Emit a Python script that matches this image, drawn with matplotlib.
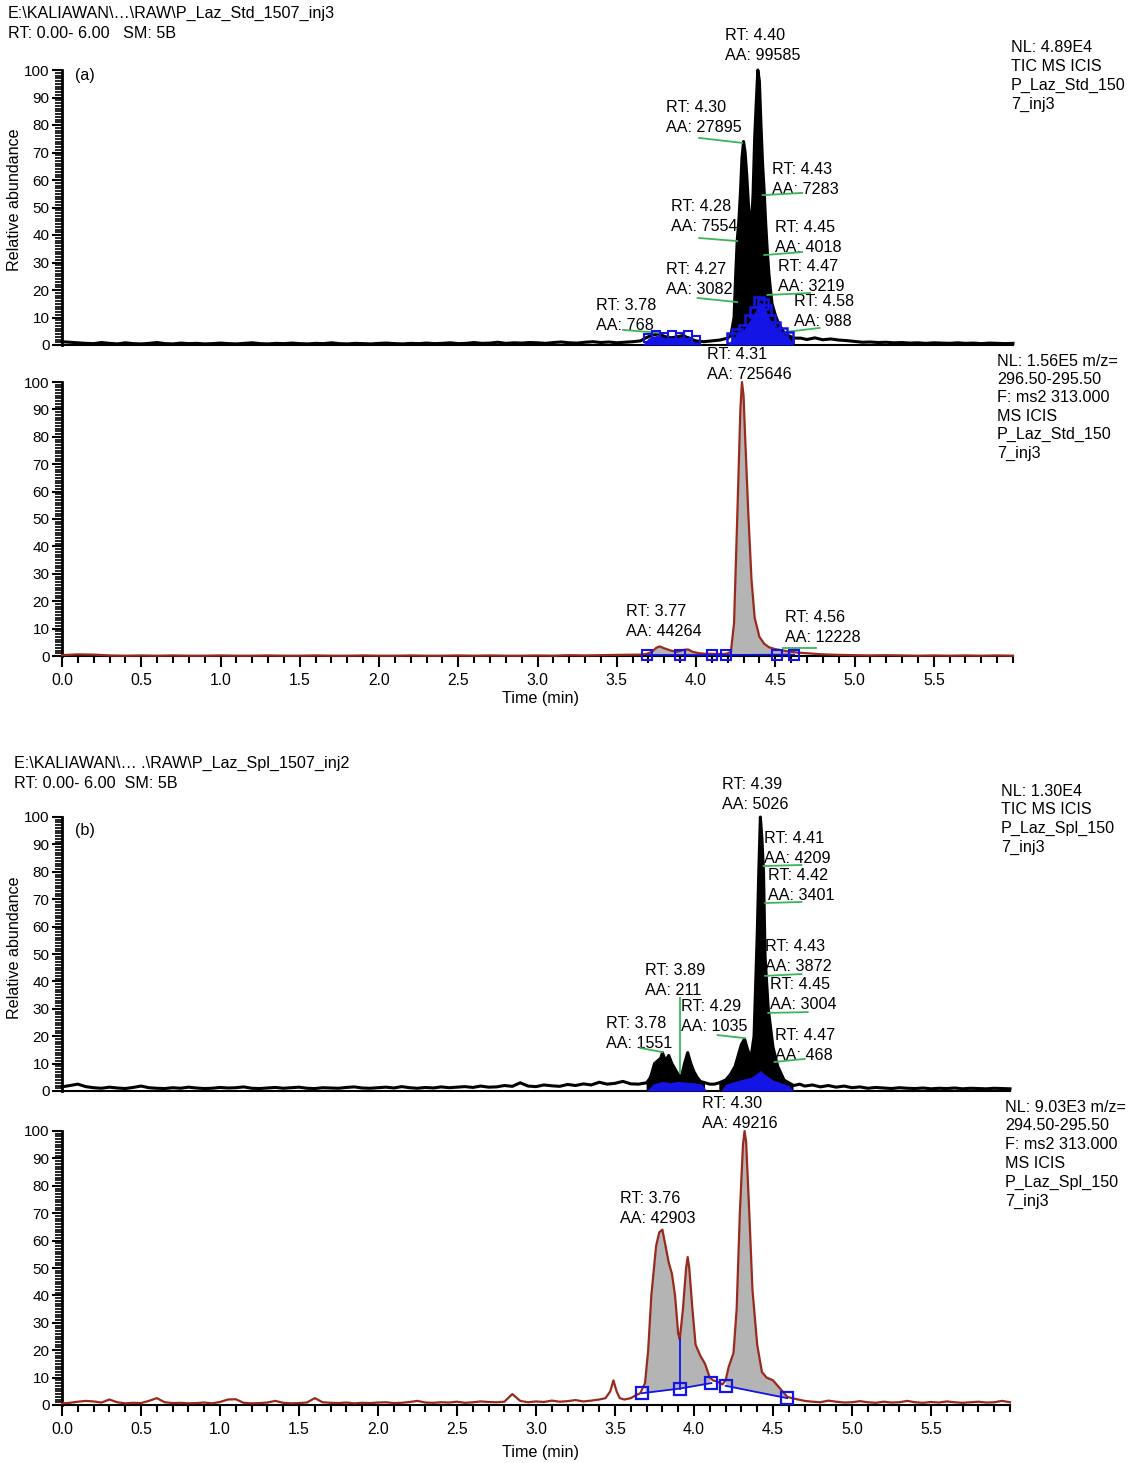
import numpy as np
import matplotlib
matplotlib.use("Agg")
import matplotlib.pyplot as plt
from matplotlib.ticker import MultipleLocator, FixedLocator

plt.rcParams['font.family'] = ['Liberation Sans', 'DejaVu Sans']

W, H = 1128, 1463

# ---------------- DATA ----------------
# Panel (a) TIC  (standard)
tic_a_base_t = np.round(np.arange(0, 3.5, 0.05), 2)
tic_a_base_y = [1.2,1.0,0.8,0.6,0.5,0.9,0.6,0.4,0.8,0.5, 0.4,0.6,0.9,0.5,0.4,0.7,0.5,0.6,0.4,0.5,
                0.7,0.5,0.4,0.6,0.8,0.5,0.4,0.6,0.5,0.7, 0.5,0.4,0.6,0.5,0.8,0.5,0.4,0.6,0.5,0.4,
                0.6,0.7,0.5,0.4,0.6,0.5,0.7,0.5,0.6,0.8, 0.5,0.6,0.9,0.6,0.7,1.0,0.6,0.8,0.7,0.9,
                0.8,0.6,0.9,1.1,0.8,0.7,1.0,1.2,0.9,1.1]
tic_a_peak_t = [3.50,3.55,3.60,3.65,3.68,3.72,3.76,3.80,3.84,3.88,3.92,3.96,4.00,4.05,4.10,4.15,4.20,4.22,
                4.24,4.25,4.26,4.27,4.28,4.29,4.30,4.31,4.32,4.33,4.34,4.35,4.36,4.37,4.38,4.39,4.40,
                4.41,4.42,4.43,4.44,4.45,4.46,4.47,4.48,4.50,4.52,4.55,4.58,4.62,4.66,4.70,4.75,4.80,
                4.85,4.90,4.95,5.00,5.05,5.10,5.15,5.20,5.25,5.30,5.35,5.40,5.45,5.50,5.55,5.60,5.65,
                5.70,5.75,5.80,5.85,5.90,5.95,6.00]
tic_a_peak_y = [0.8,1.0,1.2,1.5,2.5,3.5,4.0,3.2,2.5,3.0,3.5,2.2,1.5,1.2,1.5,1.8,2.5,3.5,
                10,25,38,45,55,68,74,70,62,52,45,43,55,75,88,100,96,
                80,66,56,44,34,26,20,15,11,8,5,3.5,2.5,2.5,2.0,2.6,1.9,
                2.2,1.8,1.6,1.3,1.0,1.1,0.9,1.0,0.8,0.9,0.7,0.8,0.6,0.8,0.7,0.6,0.8,
                0.6,0.7,0.5,0.7,0.6,0.5,0.6]
tic_a_blue1_t = [3.66,3.70,3.75,3.80,3.85,3.90,3.95,4.00,4.04]
tic_a_blue1_y = [0,2.5,3.5,3.0,3.5,3.0,3.5,2.0,0]
tic_a_blue2_t = [4.20,4.23,4.26,4.30,4.34,4.37,4.40,4.42,4.44,4.47,4.50,4.54,4.58,4.62]
tic_a_blue2_y = [0,2.5,4,5.5,9,12,15.6,15,12.7,9,6.5,4.5,3,0]

# Panel (a) SRM
srm_a_base_t = np.round(np.arange(0, 3.6, 0.1), 2)
srm_a_base_y = [0.3,0.6,0.5,0.2,0.1,0.2,0.1,0.2,0.1,0.1, 0.2,0.1,0.1,0.2,0.1,0.1,0.2,0.1,0.1,0.2,
                0.1,0.1,0.2,0.1,0.1,0.2,0.1,0.2,0.1,0.1, 0.2,0.1,0.3,0.2,0.3,0.4]
srm_a_peak_t = [3.65,3.69,3.72,3.75,3.77,3.80,3.84,3.88,3.92,3.95,3.98,4.02,4.06,4.10,4.15,4.19,
                4.22,4.24,4.26,4.28,4.29,4.30,4.31,4.33,4.35,4.37,4.40,4.43,4.46,4.50,4.55,4.60,
                4.65,4.70,4.75,4.80,4.90,5.00,5.10,5.20,5.30,5.40,5.50,5.60,5.70,5.80,5.90,6.00]
srm_a_peak_y = [0.5,0.8,1.5,3.0,3.5,2.8,2.0,1.5,2.2,2.4,1.5,1.0,0.8,0.8,0.7,0.8,
                1.5,12,50,90,100,95,80,52,28,14,7,4.5,3.2,2.5,2.0,1.5,
                1.2,1.0,0.8,0.6,0.4,0.3,0.2,0.3,0.2,0.1,0.2,0.1,0.2,0.1,0.2,0.1]
srm_a_sq_t = [3.69,3.90,4.10,4.19,4.51,4.62]
srm_a_sq_y = [0.4,0.4,0.4,0.4,0.5,0.5]

# Panel (b) TIC (sample)
tic_b_base_t = np.round(np.arange(0, 3.65, 0.05), 2)
tic_b_base_y = [1.5,2.0,2.5,1.6,1.2,1.0,1.4,1.1,0.9,1.3, 1.8,1.2,1.0,0.9,1.2,1.0,1.4,1.1,0.9,1.0,
                1.3,1.1,1.2,1.5,1.0,0.9,1.1,1.3,1.0,1.2, 1.4,1.0,0.9,1.2,1.1,1.0,1.3,1.5,1.1,1.0,
                1.2,1.4,1.1,1.6,1.2,1.0,1.3,1.1,1.5,1.2, 1.4,1.6,1.3,1.8,1.4,1.5,2.0,1.7,3.0,1.8,
                1.6,2.2,1.9,1.7,2.4,2.0,2.6,2.2,3.2,2.5, 2.8,3.5,2.6]
tic_b_peak_t = [3.65,3.70,3.72,3.73,3.75,3.77,3.79,3.80,3.82,3.84,3.86,3.88,3.90,3.92,3.94,3.96,3.98,
                4.00,4.02,4.04,4.07,4.10,4.13,4.16,4.20,4.23,4.26,4.28,4.30,4.32,4.34,4.36,4.38,
                4.40,4.41,4.42,4.43,4.44,4.45,4.47,4.50,4.53,4.57,4.60,4.63,4.67,4.70,4.75,4.80,
                4.85,4.90,4.95,5.00,5.05,5.10,5.15,5.20,5.25,5.30,5.35,5.40,5.45,5.50,5.55,5.60,
                5.65,5.70,5.75,5.80,5.85,5.90,5.95,6.00]
tic_b_peak_y = [2.5,3.0,4.5,6,10,11,12,14,11,13,10,8,6,5,10,14,10,
                7,5,3.5,3,2.5,2.5,3,4,6,9,13,17,19,15,12,20,
                57,80,100,92,80,49,30,16,9,4,3,2,2.5,1.8,2.2,1.5,
                2.0,1.4,1.8,1.2,1.5,1.0,1.3,1.1,0.9,1.2,1.0,0.9,1.1,0.8,1.0,0.9,
                1.1,0.8,1.0,0.9,0.8,1.0,0.9,0.8]
tic_b_blue1_t = [3.70,3.74,3.80,3.85,3.90,3.95,4.00,4.05,4.08]
tic_b_blue1_y = [0,2.5,3.5,3.0,3.5,3.2,3.0,2.5,0]
tic_b_blue2_t = [4.17,4.20,4.26,4.32,4.36,4.40,4.42,4.45,4.50,4.55,4.60,4.63]
tic_b_blue2_y = [0,2.5,3.5,4.5,5,6.5,7.5,6,4,3,2,0]

# Panel (b) SRM
srm_b_base_t = np.round(np.arange(0, 3.45, 0.05), 2)
srm_b_base_y = [0.6,0.8,1.2,1.5,1.3,0.9,2.0,1.0,0.6,0.8, 0.7,1.5,2.5,1.0,0.7,0.8,0.6,0.7,0.9,0.6,
                1.1,2.0,2.1,0.8,0.6,0.7,0.9,1.5,0.8,0.6, 0.7,0.9,2.5,1.0,0.8,0.7,0.9,0.6,0.8,0.7,
                0.9,1.0,0.7,0.8,1.1,1.5,0.9,0.8,1.0,0.9, 1.2,0.8,1.0,1.3,1.1,1.0,1.2,4.0,1.5,1.0,
                1.3,1.1,1.6,1.2,1.4,1.8,1.3,1.6,2.0]
srm_b_peak_t = [3.44,3.47,3.49,3.51,3.53,3.56,3.60,3.63,3.66,3.69,3.71,3.73,3.76,3.78,3.80,3.82,
                3.84,3.86,3.88,3.90,3.91,3.93,3.95,3.96,3.97,3.99,4.01,4.04,4.07,4.10,4.12,4.15,
                4.18,4.20,4.22,4.25,4.27,4.29,4.31,4.32,4.33,4.35,4.37,4.40,4.43,4.46,4.50,4.53,
                4.56,4.59,4.62,4.66,4.70,4.75,4.80,4.85,4.90,4.95,5.00,5.05,5.10,5.15,5.20,5.25,
                5.30,5.35,5.40,5.45,5.50,5.55,5.60,5.65,5.70,5.75,5.80,5.85,5.90,5.95,6.00]
srm_b_peak_y = [2.5,5,9,5,2.5,2.0,2.5,3.5,4.3,8,20,40,58,63,64,58,
                52,48,40,26,24,35,50,54,50,35,22,18,15,10,9,8.5,
                7.5,9,14,19,35,70,95,100,96,70,42,22,12,10,9,7,
                5,3,2.5,2.0,1.5,1.2,1.0,1.6,1.2,0.9,1.0,1.4,1.0,0.8,1.2,0.9,
                1.0,1.5,1.0,0.8,1.1,0.9,1.3,1.0,0.8,1.0,1.2,0.9,1.0,1.5,1.0]
srm_b_bl1_t = [3.67,3.91,4.11]
srm_b_bl1_y = [4.3,6.0,8.0]
srm_b_bl2_t = [4.20,4.59]
srm_b_bl2_y = [7.0,2.5]
srm_b_drop_t = 3.91
srm_b_drop_y = [6.0,24.0]

# Peak annotations: (RT text, AA text, x, y of first line)
ann_a_tic = [("RT: 4.40","AA: 99585",4.18,112.7), ("RT: 4.30","AA: 27895",3.81,86.5),
             ("RT: 4.43","AA: 7283",4.48,64.0), ("RT: 4.28","AA: 7554",3.84,50.2),
             ("RT: 4.45","AA: 4018",4.50,42.9), ("RT: 4.27","AA: 3082",3.81,27.6),
             ("RT: 4.47","AA: 3219",4.52,28.4), ("RT: 4.58","AA: 988",4.62,16.0),
             ("RT: 3.78","AA: 768",3.37,14.5)]
lead_a_tic = [((4.02,4.29),(75.3,73.5)), ((4.42,4.67),(54.5,55.3)), ((4.02,4.26),(38.9,37.8)),
              ((4.43,4.67),(32.7,33.8)), ((4.01,4.26),(17.1,15.6)), ((4.45,4.72),(18.2,18.9)),
              ((4.56,4.78),(4.7,6.2)), ((3.54,3.77),(5.5,4.4))]
ann_a_srm = [("RT: 4.31","AA: 725646",4.07,109.9), ("RT: 3.77","AA: 44264",3.56,16.4),
             ("RT: 4.56","AA: 12228",4.56,14.2)]
lead_a_srm = [((4.55,4.76),(2.9,2.9))]
ann_b_tic = [("RT: 4.39","AA: 5026",4.18,111.7), ("RT: 4.41","AA: 4209",4.44,92.0),
             ("RT: 4.42","AA: 3401",4.47,78.8), ("RT: 4.43","AA: 3872",4.45,52.6),
             ("RT: 3.89","AA: 211",3.69,43.8), ("RT: 4.45","AA: 3004",4.48,38.7),
             ("RT: 4.29","AA: 1035",3.92,30.7), ("RT: 3.78","AA: 1551",3.44,24.8),
             ("RT: 4.47","AA: 468",4.51,20.4)]
lead_b_tic = [((4.44,4.68),(82.1,82.5)), ((4.45,4.68),(68.6,69.0)), ((4.45,4.68),(42.0,42.7)),
              ((4.47,4.72),(28.5,28.8)), ((4.51,4.70),(10.6,11.7)), ((3.91,3.91),(33.9,6.6)),
              ((4.15,4.32),(20.4,19.3)), ((3.66,3.80),(15.7,14.2))]
ann_b_srm = [("RT: 4.30","AA: 49216",4.05,110.2), ("RT: 3.76","AA: 42903",3.53,75.2)]

info_a_tic = ["NL: 4.89E4", "TIC MS ICIS", "P_Laz_Std_150", "7_inj3"]
info_a_srm = ["NL: 1.56E5 m/z=", "296.50-295.50", "F: ms2 313.000", "MS ICIS", "P_Laz_Std_150", "7_inj3"]
info_b_tic = ["NL: 1.30E4", "TIC MS ICIS", "P_Laz_Spl_150", "7_inj3"]
info_b_srm = ["NL: 9.03E3 m/z=", "294.50-295.50", "F: ms2 313.000", "MS ICIS", "P_Laz_Spl_150", "7_inj3"]

x_major = [0.0,0.5,1.0,1.5,2.0,2.5,3.0,3.5,4.0,4.5,5.0,5.5]

# ---------------- STYLE ----------------
BLUE = '#1414e6'
RED = '#9a2a1e'
GRAY = '#b4b4b4'
GREEN = '#3cb45a'
FS = 11.6

fig = plt.figure(figsize=(W/100, H/100), dpi=100)

def make_ax(left, right, top, bottom, show_x):
    ax = fig.add_axes([left/W, 1-bottom/H, (right-left)/W, (bottom-top)/H])
    ax.set_xlim(0, 6.0)
    ax.set_ylim(0, 100)
    for s in ['top', 'right']:
        ax.spines[s].set_visible(False)
    ax.spines['left'].set_linewidth(2.0)
    ax.spines['bottom'].set_linewidth(1.5)
    ax.yaxis.set_major_locator(MultipleLocator(10))
    ax.yaxis.set_minor_locator(MultipleLocator(1))
    ax.tick_params(axis='y', which='major', length=7, width=1.5, labelsize=11, pad=2)
    ax.tick_params(axis='y', which='minor', length=5, width=1.2)
    if show_x:
        ax.xaxis.set_major_locator(FixedLocator(x_major))
        ax.xaxis.set_minor_locator(MultipleLocator(0.1))
        ax.set_xticklabels([f"{v:.1f}" for v in x_major])
        ax.tick_params(axis='x', which='major', length=8, width=1.5, labelsize=11.3, pad=4)
        ax.tick_params(axis='x', which='minor', length=5, width=1.5)
    else:
        ax.set_xticks([])
    ax.patch.set_alpha(0)
    return ax

def annotate(ax, anns, step):
    for rt, aa, x, y in anns:
        ax.text(x, y, rt, fontsize=FS, va='center', ha='left', clip_on=False)
        ax.text(x, y - step, aa, fontsize=FS, va='center', ha='left', clip_on=False)

def leaders(ax, leads):
    for xs, ys in leads:
        ax.plot(xs, ys, color=GREEN, lw=1.3, clip_on=False, zorder=4)

def info(x_px, y_px, lines, step):
    for i, s in enumerate(lines):
        fig.text(x_px/W, 1-(y_px+i*step)/H, s, fontsize=FS, va='center', ha='left')

# ---- Panel (a) TIC ----
ax1 = make_ax(62, 1013, 70, 345, False)
t1 = np.concatenate([tic_a_base_t, tic_a_peak_t]); y1 = np.concatenate([tic_a_base_y, tic_a_peak_y])
m = (t1 >= 4.22) & (t1 <= 4.62)
ax1.fill_between(t1, 0, y1, where=m, color='black', lw=0, zorder=2)
ax1.fill_between(tic_a_blue1_t, 0, tic_a_blue1_y, color=BLUE, lw=0, zorder=3)
ax1.fill_between(tic_a_blue2_t, 0, tic_a_blue2_y, color=BLUE, lw=0, zorder=3)
ax1.plot(tic_a_blue2_t[1:-1], tic_a_blue2_y[1:-1], 's', ms=7, mfc='none', mec=BLUE, mew=1.8, zorder=5)
ax1.plot(tic_a_blue1_t[1:-1], tic_a_blue1_y[1:-1], 's', ms=6, mfc='none', mec=BLUE, mew=1.5, zorder=5)
ax1.plot(t1, y1, color='black', lw=2.2, zorder=3, clip_on=False)
leaders(ax1, lead_a_tic)
annotate(ax1, ann_a_tic, 20/2.75)
ax1.text(0.08, 98, "(a)", fontsize=FS, va='center', ha='left')

# ---- Panel (a) SRM ----
ax2 = make_ax(62, 1013, 382, 656, True)
t2 = np.concatenate([srm_a_base_t, srm_a_peak_t]); y2 = np.concatenate([srm_a_base_y, srm_a_peak_y])
base2 = np.interp(t2, srm_a_sq_t, srm_a_sq_y)
m1 = (t2 >= 3.69) & (t2 <= 4.10)
m2 = (t2 >= 4.19) & (t2 <= 4.62)
ax2.fill_between(t2, base2, y2, where=m1, color=GRAY, lw=0, zorder=2)
ax2.fill_between(t2, base2, y2, where=m2, color=GRAY, lw=0, zorder=2)
ax2.plot(t2, y2, color=RED, lw=1.6, zorder=3, clip_on=False)
ax2.plot(srm_a_sq_t, srm_a_sq_y, color=BLUE, lw=1.2, zorder=4, clip_on=False)
ax2.plot(srm_a_sq_t, srm_a_sq_y, 's', ms=7, mfc='none', mec=BLUE, mew=1.5, zorder=5, clip_on=False)
leaders(ax2, lead_a_srm)
annotate(ax2, ann_a_srm, 20/2.74)

# ---- Panel (b) TIC ----
ax3 = make_ax(62, 1010, 817, 1091, False)
t3 = np.concatenate([tic_b_base_t, tic_b_peak_t]); y3 = np.concatenate([tic_b_base_y, tic_b_peak_y])
m = ((t3 >= 3.70) & (t3 <= 4.08)) | ((t3 >= 4.16) & (t3 <= 4.63))
ax3.fill_between(t3, 0, y3, where=m, color='black', lw=0, zorder=2)
ax3.fill_between(tic_b_blue1_t, 0, tic_b_blue1_y, color=BLUE, lw=0, zorder=3)
ax3.fill_between(tic_b_blue2_t, 0, tic_b_blue2_y, color=BLUE, lw=0, zorder=3)
ax3.plot(t3, y3, color='black', lw=2.2, zorder=3, clip_on=False)
leaders(ax3, lead_b_tic)
annotate(ax3, ann_b_tic, 20/2.74)
ax3.text(0.08, 95, "(b)", fontsize=FS, va='center', ha='left')

# ---- Panel (b) SRM ----
ax4 = make_ax(62, 1010, 1131, 1405, True)
t4 = np.concatenate([srm_b_base_t, srm_b_peak_t]); y4 = np.concatenate([srm_b_base_y, srm_b_peak_y])
b1 = np.interp(t4, srm_b_bl1_t, srm_b_bl1_y)
b2 = np.interp(t4, srm_b_bl2_t, srm_b_bl2_y)
m1 = (t4 >= 3.67) & (t4 <= 4.11)
m2 = (t4 >= 4.20) & (t4 <= 4.59)
ax4.fill_between(t4, b1, y4, where=m1, color=GRAY, lw=0, zorder=2)
ax4.fill_between(t4, b2, y4, where=m2, color=GRAY, lw=0, zorder=2)
ax4.plot(t4, y4, color=RED, lw=1.6, zorder=3, clip_on=False)
for bt, by in [(srm_b_bl1_t, srm_b_bl1_y), (srm_b_bl2_t, srm_b_bl2_y)]:
    ax4.plot(bt, by, color=BLUE, lw=1.3, zorder=4)
    ax4.plot(bt, by, 's', ms=8, mfc='none', mec=BLUE, mew=1.6, zorder=5)
ax4.plot([srm_b_drop_t]*2, srm_b_drop_y, color=BLUE, lw=1.3, zorder=4)
annotate(ax4, ann_b_srm, 20/2.74)

# ---- Header / side texts ----
fig.text(8/W, 1-13/H, "E:\\KALIAWAN\\…\\RAW\\P_Laz_Std_1507_inj3", fontsize=FS, va='center', ha='left')
fig.text(8/W, 1-33/H, "RT: 0.00- 6.00   SM: 5B", fontsize=FS, va='center', ha='left')
fig.text(14/W, 1-763/H, "E:\\KALIAWAN\\… .\\RAW\\P_Laz_Spl_1507_inj2", fontsize=FS, va='center', ha='left')
fig.text(14/W, 1-783/H, "RT: 0.00- 6.00  SM: 5B", fontsize=FS, va='center', ha='left')

info(1011, 47, info_a_tic, 19.3)
info(997, 361, info_a_srm, 18.4)
info(1001, 791, info_b_tic, 18.7)
info(1005, 1107, info_b_srm, 18.8)

fig.text(15/W, 1-200/H, "Relative abundance", fontsize=FS, rotation=90, va='center', ha='center')
fig.text(15/W, 1-948/H, "Relative abundance", fontsize=FS, rotation=90, va='center', ha='center')
fig.text(540/W, 1-699/H, "Time (min)", fontsize=FS, va='center', ha='center')
fig.text(540/W, 1-1453/H, "Time (min)", fontsize=FS, va='center', ha='center')

fig.savefig("out.png", dpi=100)
